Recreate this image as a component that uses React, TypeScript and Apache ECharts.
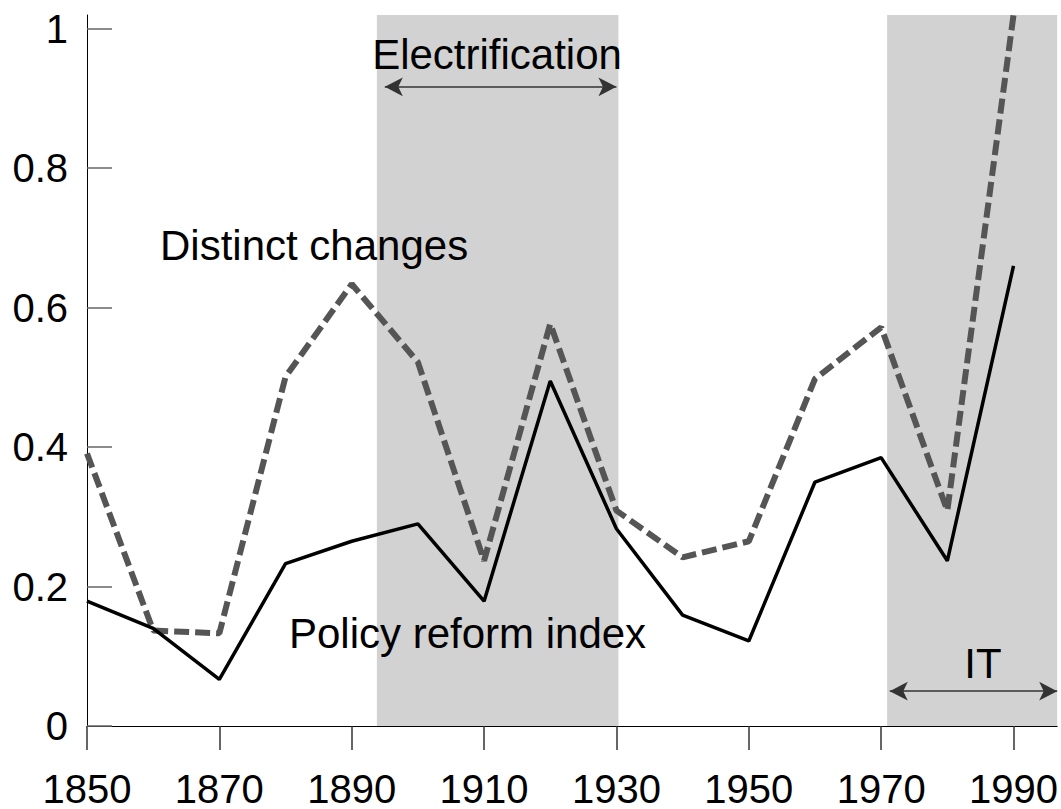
import React, { useEffect, useRef } from "react";
import * as echarts from "echarts";

const years = [1850, 1860, 1870, 1880, 1890, 1900, 1910, 1920, 1930, 1940, 1950, 1960, 1970, 1980, 1990];
const policyReform = [0.179, 0.140, 0.067, 0.233, 0.265, 0.290, 0.179, 0.495, 0.283, 0.159, 0.122, 0.350, 0.385, 0.237, 0.660];
const distinctChanges = [0.391, 0.137, 0.133, 0.501, 0.634, 0.522, 0.237, 0.577, 0.309, 0.242, 0.265, 0.498, 0.572, 0.309, 1.02];
const yTicks = [0, 0.2, 0.4, 0.6, 0.8, 1];
const electrification = [1893.8, 1930.3];
const itEra = [1970.9, 1996.6];
const electrificationArrowY = 0.917;
const itArrowY = 0.05;

const FONT = '"Liberation Sans", Arial, sans-serif';

export default function App() {
  const ref = useRef<HTMLDivElement>(null);
  useEffect(() => {
    document.body.style.margin = "0";
    const chart = echarts.init(ref.current!, null, { renderer: "svg" });
    const xMin = 1850;
    const xMax = 1996.6;
    const yMin = 0;
    const yMax = 1.02;
    const shadeBottom = -0.0057;
    chart.setOption({
      animation: false,
      backgroundColor: "#ffffff",
      grid: { left: 87, top: 15, right: 0, bottom: 81, containLabel: false },
      xAxis: {
        type: "value",
        min: xMin,
        max: xMax,
        interval: 20,
        splitLine: { show: false },
        axisLine: { show: true, onZero: false, lineStyle: { color: "#000", width: 1 } },
        axisTick: { show: true, length: 24, lineStyle: { color: "#333333", width: 1.5 } },
        axisLabel: {
          showMaxLabel: false,
          margin: 47,
          lineHeight: 32,
          color: "#000",
          fontSize: 40,
          fontFamily: FONT,
          formatter: (v: number) => String(v),
        },
      },
      yAxis: {
        type: "value",
        min: yMin,
        max: yMax,
        interval: 0.2,
        splitLine: { show: false },
        axisLine: { show: true, lineStyle: { color: "#000", width: 1 } },
        axisTick: { show: false },
        axisLabel: {
          showMaxLabel: false,
          margin: 19,
          color: "#000",
          fontSize: 40,
          fontFamily: FONT,
          formatter: (v: number) => String(Math.round(v * 10) / 10),
        },
      },
      series: [
        {
          name: "Distinct changes",
          type: "line",
          data: years.map((y, i) => [y, distinctChanges[i]]),
          showSymbol: false,
          symbol: "none",
          clip: false,
          lineStyle: { color: "#555555", width: 6, type: [15, 6], cap: "butt" },
          z: 3,
          markArea: {
            silent: true,
            itemStyle: { color: "#d2d2d2" },
            data: [
              [
                { coord: [electrification[0], shadeBottom] },
                { coord: [electrification[1], yMax] },
              ],
              [
                { coord: [itEra[0], shadeBottom] },
                { coord: [itEra[1], yMax] },
              ],
            ],
          },
        },
        {
          name: "Policy reform index",
          type: "line",
          data: years.map((y, i) => [y, policyReform[i]]),
          showSymbol: false,
          symbol: "none",
          clip: false,
          lineStyle: { color: "#000000", width: 3.5 },
          z: 4,
          markLine: {
            silent: true,
            symbol: ["arrow", "arrow"],
            symbolSize: [14, 18],
            label: { show: false },
            lineStyle: { color: "#333333", width: 1.5, type: "solid" },
            data: [
              [
                { coord: [electrification[0] + 1.2, electrificationArrowY] },
                { coord: [electrification[1] - 0.3, electrificationArrowY] },
              ],
              [
                { coord: [itEra[0] + 0.4, itArrowY] },
                { coord: [itEra[1], itArrowY] },
              ],
            ],
          },
        },
        {
          name: "yTicks",
          type: "custom",
          silent: true,
          clip: false,
          z: 5,
          data: yTicks.map((v) => [xMin, v]),
          renderItem: (_params: any, api: any) => {
            const p = api.coord([api.value(0), api.value(1)]);
            return {
              type: "rect",
              shape: { x: p[0], y: Math.round(p[1]) - 0.75, width: 25, height: 1.5 },
              style: { fill: "#666666" },
            };
          },
        },
      ],
      graphic: [
        {
          type: "text",
          x: 497,
          y: 54,
          z: 100,
          style: { text: "Electrification", fill: "#000", font: `42px ${FONT}`, textAlign: "center", textVerticalAlign: "middle", align: "center", verticalAlign: "middle" },
        },
        {
          type: "text",
          x: 160,
          y: 245,
          z: 100,
          style: { text: "Distinct changes", fill: "#000", font: `42px ${FONT}`, textAlign: "left", textVerticalAlign: "middle", align: "left", verticalAlign: "middle" },
        },
        {
          type: "text",
          x: 289,
          y: 633,
          z: 100,
          style: { text: "Policy reform index", fill: "#000", font: `42px ${FONT}`, textAlign: "left", textVerticalAlign: "middle", align: "left", verticalAlign: "middle" },
        },
        {
          type: "text",
          x: 983,
          y: 663,
          z: 100,
          style: { text: "IT", fill: "#000", font: `42px ${FONT}`, textAlign: "center", textVerticalAlign: "middle", align: "center", verticalAlign: "middle" },
        },
      ],
    });
    return () => chart.dispose();
  }, []);
  return <div ref={ref} style={{ width: 1061, height: 809 }} />;
}
